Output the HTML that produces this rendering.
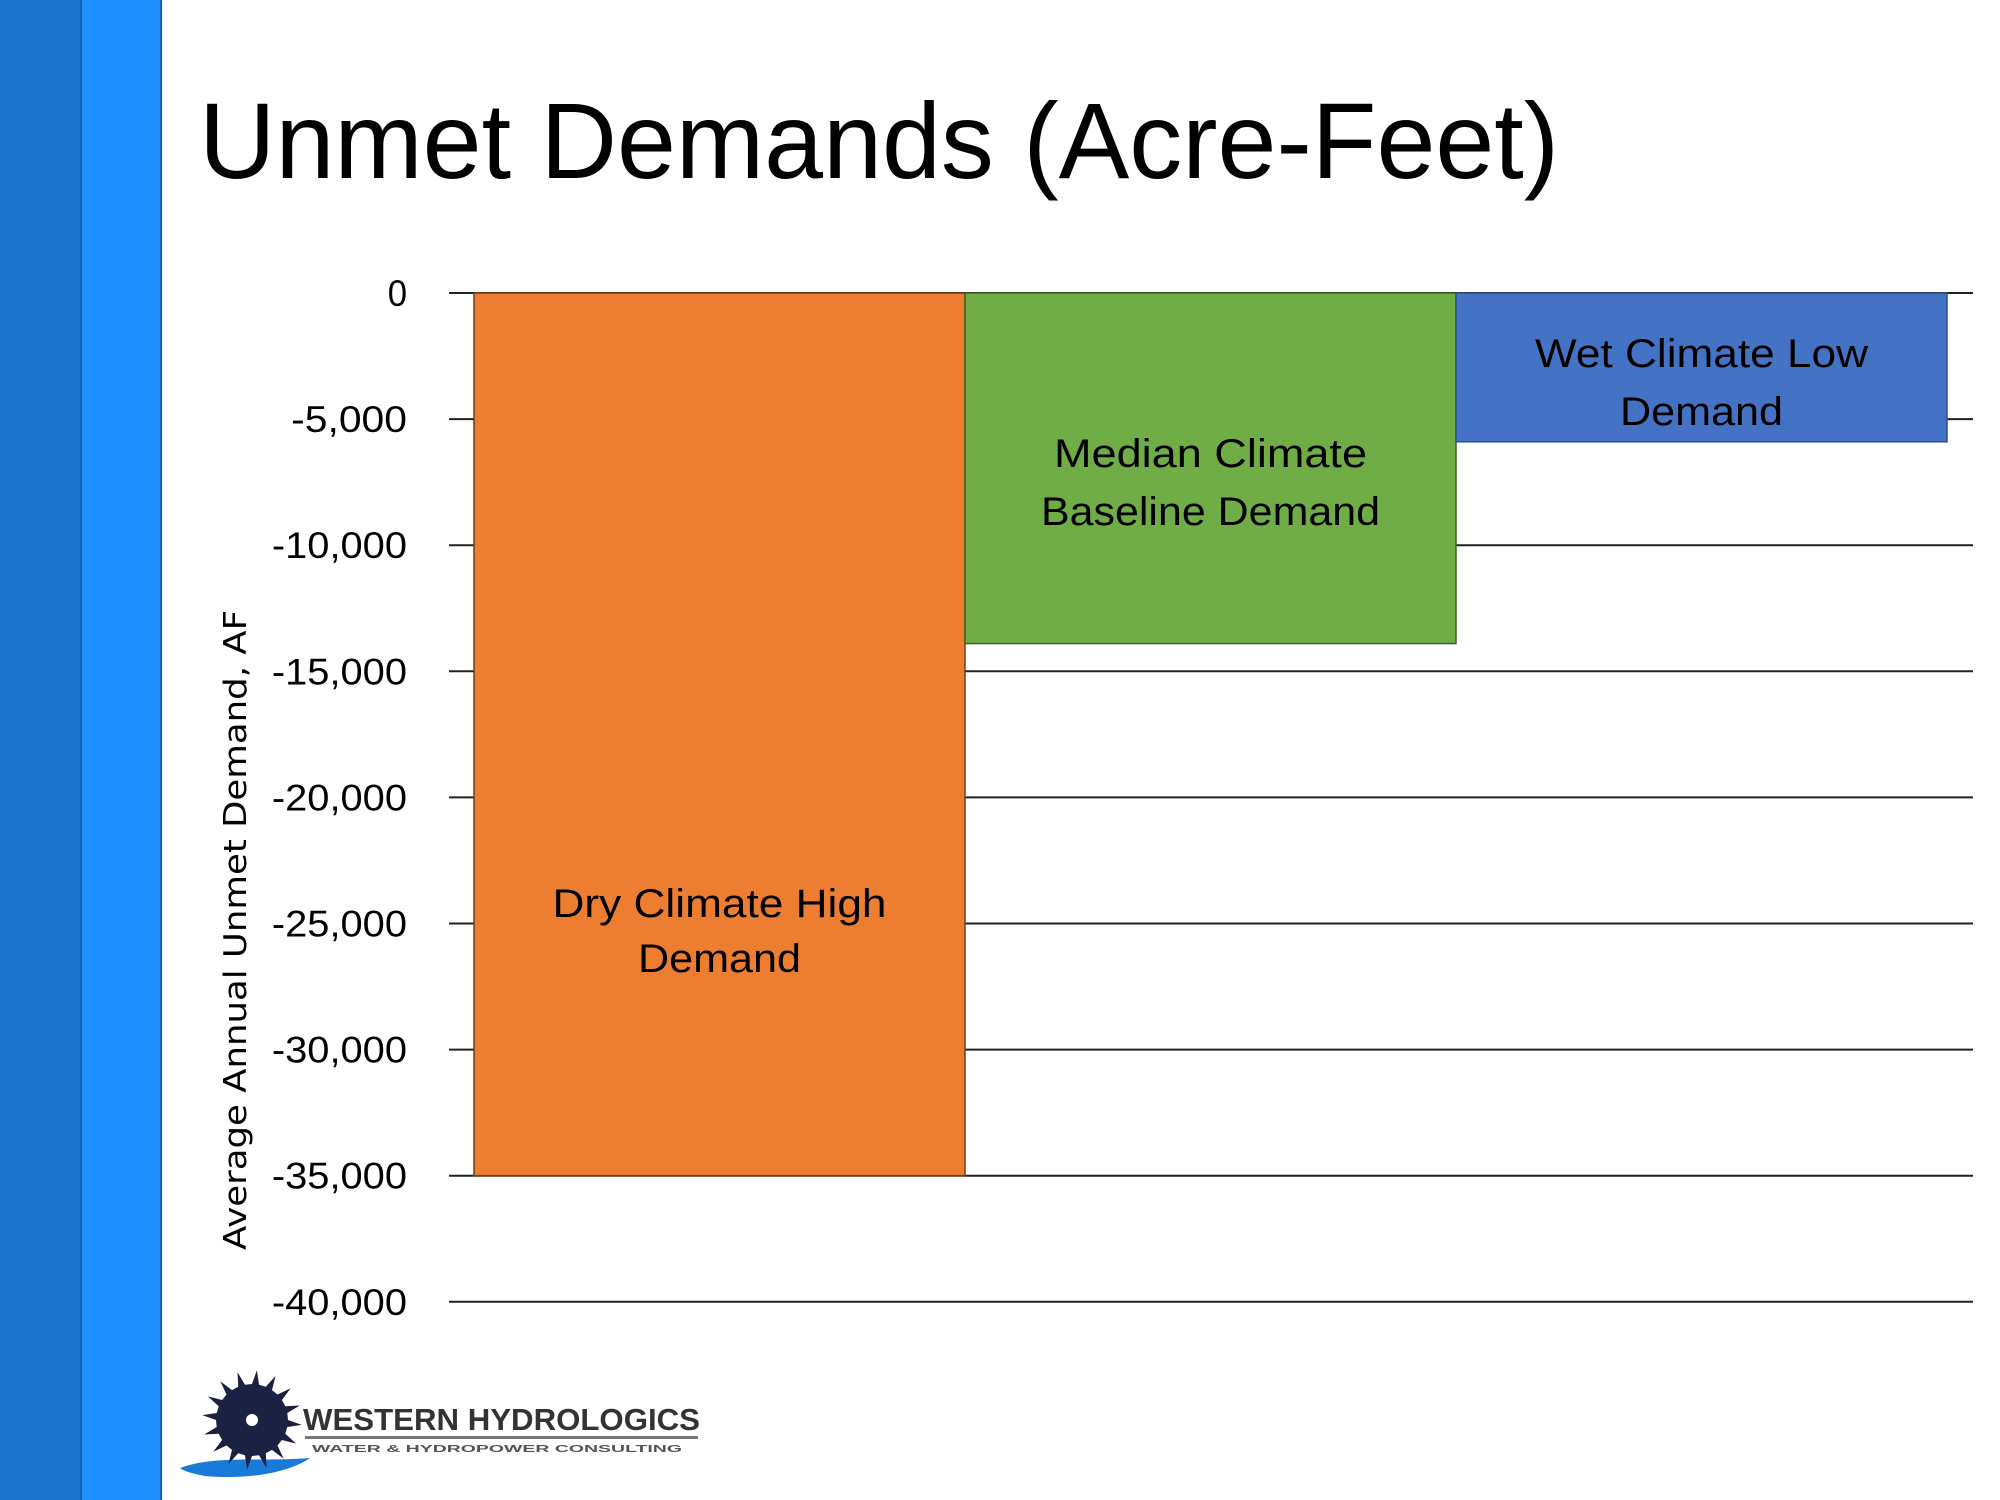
<!DOCTYPE html>
<html><head><meta charset="utf-8"><style>
html,body{margin:0;padding:0;background:#fff}
svg{display:block}
text{font-family:"Liberation Sans",sans-serif}
</style></head><body>
<svg id="chart" width="2000" height="1500" viewBox="0 0 2000 1500" xmlns="http://www.w3.org/2000/svg">
<rect x="0" y="0" width="81" height="1500" fill="#1c74cc"/>
<rect x="81" y="0" width="81" height="1500" fill="#1e8fff"/>
<line x1="81" y1="0" x2="81" y2="1500" stroke="#1560b0" stroke-width="2"/>
<line x1="161" y1="0" x2="161" y2="1500" stroke="#1560b0" stroke-width="2"/>
<text x="199" y="178" font-size="108" textLength="1360" lengthAdjust="spacingAndGlyphs" fill="#000">Unmet Demands (Acre-Feet)</text>
<g id="grid"></g>
<g id="bars"></g>
<g id="ticks"></g>
<text transform="translate(246,930) rotate(-90)" text-anchor="middle" font-size="31" textLength="640" lengthAdjust="spacingAndGlyphs" fill="#000" style="font-family:'DejaVu Sans',sans-serif">Average Annual Unmet Demand, AF</text>
<g>
  <path d="M180,1468 C215,1455 260,1462 310,1458 C290,1472 250,1480 205,1476 C195,1474 185,1472 180,1468 Z" fill="#1a7ad8"/>
  <g id="gear" transform="translate(252,1420)"></g>
  <circle cx="252" cy="1420" r="6" fill="#fff"/>
  <text x="303" y="1430" font-size="31" font-weight="bold" textLength="397" lengthAdjust="spacingAndGlyphs" fill="#333">WESTERN HYDROLOGICS</text>
  <rect x="305" y="1436" width="393" height="3" fill="#777"/>
  <text x="312" y="1452" font-size="10" font-weight="bold" textLength="370" lengthAdjust="spacingAndGlyphs" fill="#555">WATER &amp; HYDROPOWER CONSULTING</text>
</g>
</svg>
<script>
const categories = ["Dry Climate High Demand", "Median Climate Baseline Demand", "Wet Climate Low Demand"];
const values = [-35000, -13900, -5900];
const tickValues = [0, -5000, -10000, -15000, -20000, -25000, -30000, -35000, -40000];
const tickLabels = ["0", "-5,000", "-10,000", "-15,000", "-20,000", "-25,000", "-30,000", "-35,000", "-40,000"];
const labelLines = [["Dry Climate High", "Demand"], ["Median Climate", "Baseline Demand"], ["Wet Climate Low", "Demand"]];
const NS = "http://www.w3.org/2000/svg";
const y0 = 293, yPer5k = 126.1;
function yScale(v){ return y0 + (-v/5000)*yPer5k; }
const plotL = 449, plotR = 1973, barStart = 474, barW = 491;
function xScale(i){ return barStart + i*barW; }
const colors = ["#ed7d31", "#70ad47", "#4472c4"];
const strokes = ["#7a3d10", "#3d6324", "#2f4f8a"];
const labelY = [[917, 972], [467, 525], [367, 425]];
const labelW = [[334, 163], [313, 339], [333, 163]];
const grid = document.getElementById('grid');
tickValues.forEach((v, i) => {
  const l = document.createElementNS(NS, 'line');
  l.setAttribute('x1', plotL); l.setAttribute('x2', plotR);
  l.setAttribute('y1', yScale(v)); l.setAttribute('y2', yScale(v));
  l.setAttribute('stroke', '#222'); l.setAttribute('stroke-width', '2');
  
  
  grid.appendChild(l);
  const t = document.createElementNS(NS, 'text');
  t.setAttribute('x', 407); t.setAttribute('y', yScale(v) + 13);
  t.setAttribute('text-anchor', 'end'); t.setAttribute('font-size', '37');
  t.setAttribute('textLength', tickLabels[i].length * 19.3);
  t.setAttribute('lengthAdjust', 'spacingAndGlyphs');
  t.textContent = tickLabels[i];
  
  
  document.getElementById('ticks').appendChild(t);
});
const bars = document.getElementById('bars');
values.forEach((v, i) => {
  const r = document.createElementNS(NS, 'rect');
  const top = yScale(0), bot = yScale(v);
  r.setAttribute('x', xScale(i)); r.setAttribute('y', top);
  r.setAttribute('width', barW); r.setAttribute('height', bot - top);
  r.setAttribute('fill', colors[i]); r.setAttribute('stroke', strokes[i]); r.setAttribute('stroke-width', '1.5');
  
  
  bars.appendChild(r);
  labelLines[i].forEach((s, j) => {
    const t = document.createElementNS(NS, 'text');
    t.setAttribute('x', xScale(i) + barW/2); t.setAttribute('y', labelY[i][j]);
    t.setAttribute('text-anchor', 'middle'); t.setAttribute('font-size', '40');
    t.setAttribute('textLength', labelW[i][j]);
    t.setAttribute('lengthAdjust', 'spacingAndGlyphs');
    t.textContent = s;
    
    
    bars.appendChild(t);
  });
});
const gear = document.getElementById('gear');
let d = '';
const n = 16;
for (let k = 0; k < n; k++) {
  const a0 = k*2*Math.PI/n, a1 = a0 + Math.PI/n*0.5, a2 = a0 + Math.PI/n;
  const p = (r,a)=> (r*Math.cos(a)).toFixed(1)+','+(r*Math.sin(a)).toFixed(1);
  d += (k===0?'M':'L') + p(36,a0) + ' L' + p(50,a1) + ' L' + p(36,a2) + ' ';
}
const gp = document.createElementNS(NS, 'path');
gp.setAttribute('d', d + 'Z'); gp.setAttribute('fill', '#1b2142');


gear.appendChild(gp);
</script>
</body></html>
